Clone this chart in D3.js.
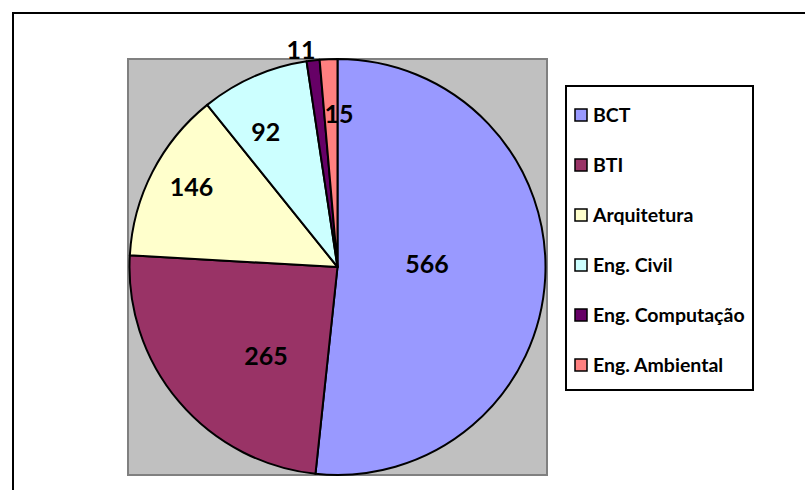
<!DOCTYPE html>
<html>
<head>
<meta charset="utf-8">
<script src="https://cdn.jsdelivr.net/npm/d3@7"></script>
<style>
    body { margin: 0; background: #fff; }
    svg { display: block; font-family: Lato, "Open Sans", sans-serif; font-weight: bold; }
</style>
</head>
<body>
<div id="chart"></div>
<script>
//Chart data
const categories = ["BCT", "BTI", "Arquitetura", "Eng. Civil", "Eng. Computação", "Eng. Ambiental"];
const values = [566, 265, 146, 92, 11, 15];
const colours = ["#9999FF", "#993366", "#FFFFCC", "#CCFFFF", "#660066", "#FF8080"];

//Label placement (fraction of radius, angle tweak in degrees) to follow the original
const labelRadius = [0.43, 0.55, 0.80, 0.735, 1.06, 0.735];
const labelTurn = [-5, -11, 1.4, -4.3, -2.8, 3];

//Layout
const width = 805;
const height = 490;
const plot = { x: 128, y: 59, w: 419, h: 416 };
const radius = 208;
const cx = plot.x + plot.w / 2;
const cy = plot.y + plot.h / 2;
const legend = { x: 566, y: 86, w: 187, h: 304, rowStart: 29, rowStep: 50 };

const svg = d3.select("#chart")
    .append("svg")
    .attr("width", width)
    .attr("height", height);

//outer chart border (runs off the right and bottom edges)
svg.append("rect")
    .attr("x", 13)
    .attr("y", 13)
    .attr("width", width)
    .attr("height", height)
    .style("fill", "#fff")
    .style("stroke", "#000")
    .style("stroke-width", 2);

//gray plot area
svg.append("rect")
    .attr("x", plot.x)
    .attr("y", plot.y)
    .attr("width", plot.w)
    .attr("height", plot.h)
    .style("fill", "#C0C0C0")
    .style("stroke", "#808080")
    .style("stroke-width", 2);

const data = categories.map((c, i) => ({ name: c, value: values[i], colour: colours[i], idx: i }));

const pie = d3.pie()
    .sort(null)
    .value(d => d.value);

const arc = d3.arc()
    .innerRadius(0)
    .outerRadius(radius);

const g = svg.append("g")
    .attr("transform", `translate(${cx},${cy})`);

const arcs = pie(data);

g.selectAll(".slice")
    .data(arcs)
    .enter().append("path")
    .attr("class", "slice")
    .attr("d", arc)
    .style("fill", d => d.data.colour)
    .style("stroke", "#000")
    .style("stroke-width", 2)
    .style("stroke-linejoin", "round");

//label angle = middle of slice plus a small turn
const labelAngle = d => (d.startAngle + d.endAngle) / 2 + labelTurn[d.data.idx] * Math.PI / 180;

//data labels
g.selectAll(".label")
    .data(arcs)
    .enter().append("text")
    .attr("class", "label")
    .attr("x", d => Math.sin(labelAngle(d)) * radius * labelRadius[d.data.idx])
    .attr("y", d => -Math.cos(labelAngle(d)) * radius * labelRadius[d.data.idx])
    .attr("dy", "0.36em")
    .attr("text-anchor", "middle")
    .style("font-size", "25px")
    .style("fill", "#000")
    .text(d => d.data.value);

//legend
const lg = svg.append("g")
    .attr("transform", `translate(${legend.x},${legend.y})`);

lg.append("rect")
    .attr("width", legend.w)
    .attr("height", legend.h)
    .style("fill", "#fff")
    .style("stroke", "#000")
    .style("stroke-width", 2);

const rows = lg.selectAll(".row")
    .data(data)
    .enter().append("g")
    .attr("class", "row")
    .attr("transform", (d, i) => `translate(0,${legend.rowStart + i * legend.rowStep})`);

rows.append("rect")
    .attr("x", 9)
    .attr("y", -6)
    .attr("width", 12)
    .attr("height", 12)
    .style("fill", d => d.colour)
    .style("stroke", "#000")
    .style("stroke-width", 1.5);

rows.append("text")
    .attr("x", 27)
    .attr("dy", "0.36em")
    .style("font-size", "19.5px")
    .style("fill", "#000")
    .text(d => d.name);
</script>
</body>
</html>
